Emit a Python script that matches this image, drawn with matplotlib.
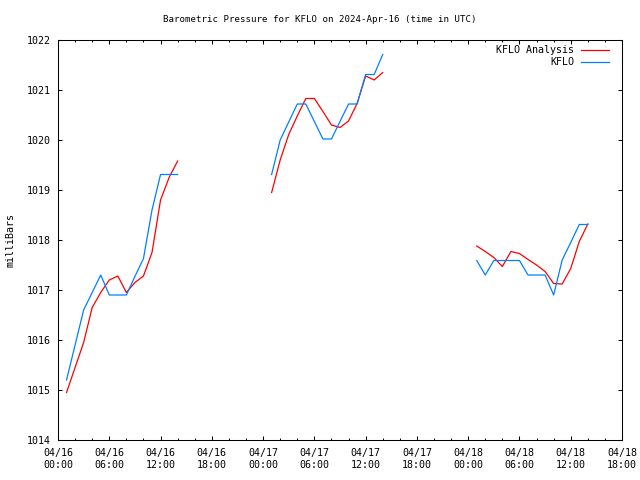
import datetime as dt

import matplotlib
matplotlib.use("Agg")
import matplotlib.pyplot as plt
import matplotlib.dates as mdates
import numpy as np

# Hours after 2024-04-16 00:00 UTC, NaN marks a gap between data blocks
hours = [1, 2, 3, 4, 5, 6, 7, 8, 9, 10, 11, 12, 13, 14, np.nan,
         25, 26, 27, 28, 29, 30, 31, 32, 33, 34, 35, 36, 37, 38, np.nan,
         49, 50, 51, 52, 53, 54, 55, 56, 57, 58, 59, 60, 61, 62]

analysis = [1014.95, 1015.45, 1015.95, 1016.65, 1016.95, 1017.2, 1017.28,
            1016.95, 1017.15, 1017.28, 1017.75, 1018.8, 1019.25, 1019.58, np.nan,
            1018.95, 1019.6, 1020.11, 1020.48, 1020.83, 1020.83, 1020.57,
            1020.3, 1020.25, 1020.38, 1020.73, 1021.28, 1021.2, 1021.35, np.nan,
            1017.88, 1017.77, 1017.65, 1017.47, 1017.77, 1017.73, 1017.61,
            1017.5, 1017.37, 1017.13, 1017.12, 1017.43, 1017.97, 1018.32]

observed = [1015.2, 1015.9, 1016.6, 1016.95, 1017.3, 1016.9, 1016.9,
            1016.9, 1017.27, 1017.63, 1018.6, 1019.31, 1019.31, 1019.31, np.nan,
            1019.31, 1020.0, 1020.36, 1020.72, 1020.72, 1020.37, 1020.02,
            1020.02, 1020.37, 1020.72, 1020.72, 1021.31, 1021.31, 1021.71, np.nan,
            1017.59, 1017.3, 1017.59, 1017.59, 1017.59, 1017.59, 1017.3,
            1017.3, 1017.3, 1016.9, 1017.6, 1017.95, 1018.31, 1018.31]

start = dt.datetime(2024, 4, 16, 0, 0)
x_min = start
x_max = start + dt.timedelta(hours=66)

mono = "DejaVu Sans Mono"
plt.rcParams["font.family"] = mono
plt.rcParams["font.size"] = 7.2

times = [start + dt.timedelta(hours=h) if not np.isnan(h) else None for h in hours]
x_vals = np.array([mdates.date2num(t) if t is not None else np.nan for t in times])

fig = plt.figure(figsize=(6.4, 4.8), dpi=100)
ax = fig.add_axes([58 / 640, 40 / 480, 564 / 640, 400 / 480])

ax.plot(x_vals, analysis, color="#ff0000", lw=0.9)
ax.plot(x_vals, observed, color="#0080ff", lw=0.9)

ax.set_xlim(mdates.date2num(x_min), mdates.date2num(x_max))
ax.set_ylim(1014, 1022)

ax.xaxis.set_major_locator(mdates.HourLocator(byhour=[0, 6, 12, 18]))
ax.xaxis.set_minor_locator(mdates.HourLocator(interval=2))
ax.xaxis.set_major_formatter(mdates.DateFormatter("%m/%d\n%H:%M"))
ax.set_yticks(np.arange(1014, 1023, 1))

ax.tick_params(which="both", direction="in", top=True, right=True, width=0.75)
ax.tick_params(which="major", length=3.0, pad=5)
ax.tick_params(which="minor", length=1.6)
ax.tick_params(axis="x", which="major", pad=6)
for spine in ax.spines.values():
    spine.set_linewidth(0.75)

ax.set_ylabel("milliBars", labelpad=8)
fig.text(0.5, 1 - 19 / 480, "Barometric Pressure for KFLO on 2024-Apr-16 (time in UTC)",
         ha="center", va="center", fontsize=6.6)

# legend drawn by hand so the labels are right aligned like gnuplot
labels = ["KFLO Analysis", "KFLO"]
colors = ["#ff0000", "#0080ff"]
for i, (lab, col) in enumerate(zip(labels, colors)):
    y = 1 - (10.5 + 12 * i) / 400
    ax.text(516 / 564, y, lab, transform=ax.transAxes, ha="right", va="center")
    ax.plot([523 / 564, 551 / 564], [y, y], transform=ax.transAxes, color=col, lw=0.9)

fig.savefig("out.png", dpi=100)
